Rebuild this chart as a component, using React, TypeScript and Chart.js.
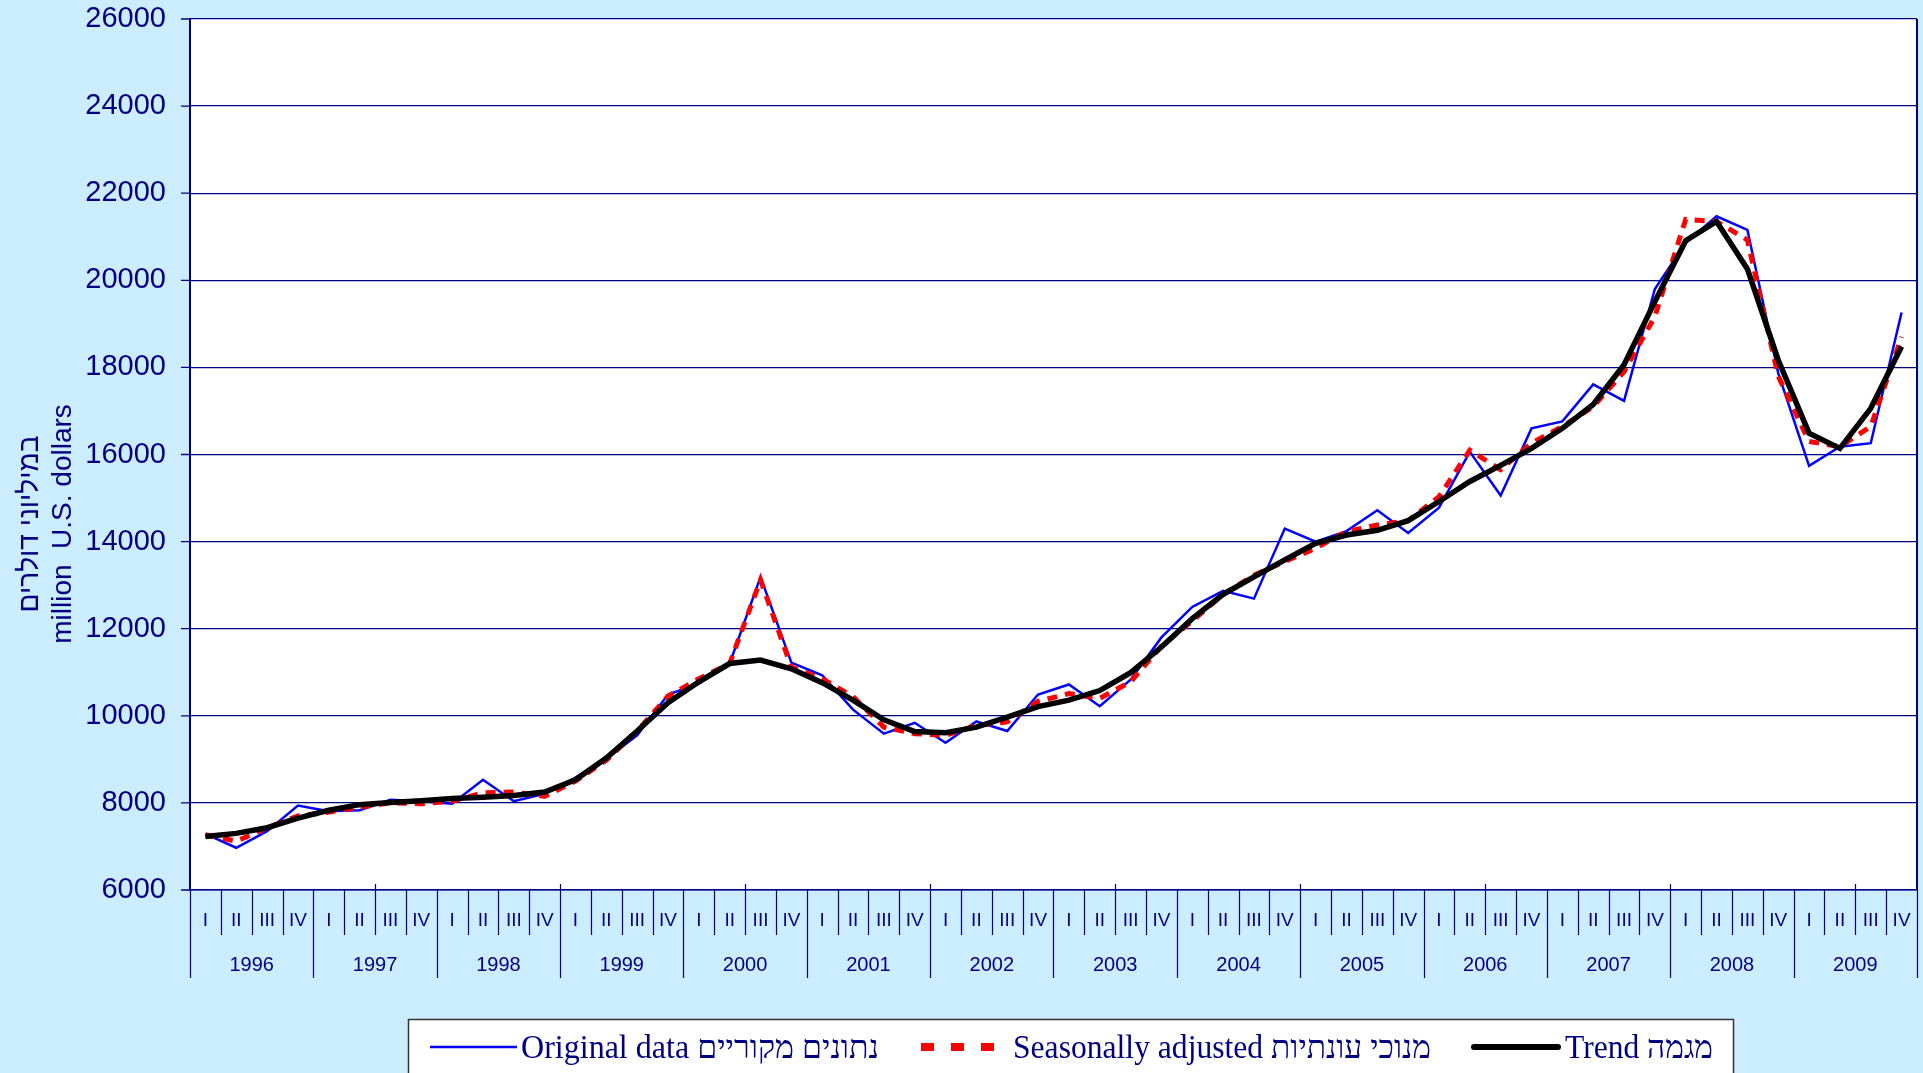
import React, { useEffect, useRef } from "react";
import { Chart, registerables } from "chart.js";

Chart.register(...registerables);

// ---------------- data ----------------
const years = ["1996", "1997", "1998", "1999", "2000", "2001", "2002", "2003", "2004", "2005", "2006", "2007", "2008", "2009"];
const quarterNames = ["I", "II", "III", "IV"];
const categories = years.flatMap((y) => quarterNames.map((q) => `${q} ${y}`));

const originalData = [
  7290, 6970, 7350, 7940,
  7810, 7830, 8070, 8040,
  7980, 8530, 8040, 8210,
  8580, 9020, 9550, 10490,
  10740, 11200, 13190, 11220,
  10930, 10140, 9590, 9840,
  9380, 9870, 9650, 10490,
  10720, 10220, 10830, 11800,
  12500, 12870, 12690, 14300,
  14000, 14240, 14720, 14200,
  14780, 16060, 15060, 16600,
  16760, 17610, 17230, 19800,
  20860, 21470, 21160, 17870,
  15740, 16180, 16260, 19260,
];

const seasonallyAdjusted = [
  7270, 7120, 7430, 7700,
  7790, 7900, 8000, 7980,
  8040, 8230, 8250, 8150,
  8500, 8980, 9650, 10450,
  10850, 11200, 13120, 11120,
  10850, 10440, 9740, 9590,
  9550, 9780, 9860, 10330,
  10510, 10400, 10780, 11600,
  12180, 12790, 13230, 13540,
  13850, 14230, 14380, 14480,
  15030, 16100, 15650, 16260,
  16640, 17100, 17900, 19170,
  21400, 21350, 20930, 17800,
  16300, 16180, 16640, 18700,
];

const trend = [
  7230, 7300, 7430, 7650,
  7830, 7960, 8010, 8050,
  8100, 8130, 8170, 8250,
  8530, 9030, 9650, 10300,
  10780, 11200, 11280, 11080,
  10760, 10360, 9910, 9640,
  9610, 9740, 9970, 10210,
  10360, 10580, 10990, 11580,
  12230, 12790, 13190, 13580,
  13960, 14150, 14260, 14480,
  14920, 15380, 15750, 16140,
  16600, 17150, 18060, 19510,
  20910, 21350, 20260, 18170,
  16490, 16140, 17060, 18480,
];

const yMin = 6000;
const yMax = 26000;
const yStep = 2000;

const yTitleLines = ["במיליוני דולרים", "million  U.S. dollars"];
const legendOriginal = "Original data נתונים מקוריים";
const legendSeasonal = "Seasonally adjusted מנוכי עונתיות";
const legendTrend = "Trend מגמה";

// ---------------- styles / layout ----------------
const NAVY = "#000080";
const BG = "#CCECFF";
const W = 1923;
const H = 1073;

function drawCondensed(ctx: CanvasRenderingContext2D, text: string, x0: number, x1: number, baseline: number, font: string) {
  ctx.save();
  ctx.font = font;
  ctx.textAlign = "left";
  ctx.textBaseline = "alphabetic";
  const natural = ctx.measureText(text).width;
  const sx = (x1 - x0) / natural;
  ctx.translate(x0, baseline);
  ctx.scale(sx, 1);
  ctx.fillText(text, 0, 0);
  ctx.restore();
}

const decorPlugin = {
  id: "decor",
  beforeDraw(chart: any) {
    const { ctx, chartArea: a, width, height } = chart;
    ctx.save();
    ctx.fillStyle = BG;
    ctx.fillRect(0, 0, width, height);
    ctx.fillStyle = "#FFFFFF";
    ctx.fillRect(a.left, a.top, a.right - a.left, a.bottom - a.top);
    ctx.restore();
  },
  afterDraw(chart: any) {
    const { ctx, chartArea: a, scales } = chart;
    const xs = scales.x;
    const ys = scales.y;
    const n = categories.length;
    const p0 = xs.getPixelForValue(0);
    const step = xs.getPixelForValue(1) - p0;
    const boundary = (j: number) => p0 + (j - 0.5) * step;

    ctx.save();
    // plot borders
    ctx.strokeStyle = NAVY;
    ctx.lineWidth = 2;
    ctx.beginPath();
    ctx.moveTo(a.left, a.top);
    ctx.lineTo(a.left, a.bottom);
    ctx.moveTo(a.right, a.top);
    ctx.lineTo(a.right, a.bottom);
    ctx.stroke();

    // y tick marks
    ctx.lineWidth = 1.3;
    ctx.beginPath();
    for (let v = yMin; v <= yMax; v += yStep) {
      const y = ys.getPixelForValue(v);
      ctx.moveTo(a.left - 9, y);
      ctx.lineTo(a.left, y);
    }
    ctx.stroke();

    // x-axis ticks
    ctx.lineWidth = 1.2;
    ctx.beginPath();
    for (let j = 0; j <= n; j++) {
      const x = Math.round(boundary(j)) + 0.5;
      const yEnd = j % 4 === 0 ? 978 : 935;
      ctx.moveTo(x, a.bottom);
      ctx.lineTo(x, yEnd);
      if (j % 6 === 0 && j > 0 && j < n) {
        ctx.moveTo(x, a.bottom - 6);
        ctx.lineTo(x, a.bottom);
      }
    }
    ctx.stroke();

    // quarter labels
    ctx.fillStyle = NAVY;
    ctx.textAlign = "center";
    ctx.textBaseline = "middle";
    ctx.font = "19px 'Liberation Sans', Arial, sans-serif";
    for (let i = 0; i < n; i++) {
      ctx.fillText(quarterNames[i % 4], xs.getPixelForValue(i), 921);
    }
    // year labels
    ctx.font = "20px 'Liberation Sans', Arial, sans-serif";
    years.forEach((y, k) => {
      const cx = (boundary(k * 4) + boundary(k * 4 + 4)) / 2;
      ctx.fillText(y, cx, 965);
    });

    // y-axis title
    ctx.font = "28px 'Liberation Sans', Arial, sans-serif";
    const titleX = [30, 63];
    yTitleLines.forEach((t, k) => {
      ctx.save();
      ctx.translate(titleX[k], 524);
      ctx.rotate(-Math.PI / 2);
      ctx.fillText(t, 0, 0);
      ctx.restore();
    });

    // legend box
    ctx.fillStyle = "#FFFFFF";
    ctx.fillRect(408, 1019, 1733 - 408, 70);
    ctx.strokeStyle = "#333333";
    ctx.lineWidth = 1.5;
    ctx.strokeRect(408.5, 1019.5, 1733 - 408, 70);

    // legend samples
    const ly = 1047;
    ctx.lineCap = "butt";
    ctx.strokeStyle = "#0000FF";
    ctx.lineWidth = 2.5;
    ctx.beginPath();
    ctx.moveTo(430, ly);
    ctx.lineTo(517, ly);
    ctx.stroke();

    ctx.strokeStyle = "#FF0000";
    ctx.lineWidth = 8;
    ctx.setLineDash([13, 17]);
    ctx.beginPath();
    ctx.moveTo(921, ly);
    ctx.lineTo(995, ly);
    ctx.stroke();
    ctx.setLineDash([]);

    ctx.strokeStyle = "#000000";
    ctx.lineWidth = 6;
    ctx.lineCap = "round";
    ctx.beginPath();
    ctx.moveTo(1474, ly);
    ctx.lineTo(1558, ly);
    ctx.stroke();

    ctx.fillStyle = NAVY;
    const lfont = "33px 'Liberation Serif', 'Times New Roman', serif";
    drawCondensed(ctx, legendOriginal, 521, 879, 1058, lfont);
    drawCondensed(ctx, legendSeasonal, 1013, 1431, 1058, lfont);
    drawCondensed(ctx, legendTrend, 1565, 1713, 1058, lfont);
    ctx.restore();
  },
};

export default function App() {
  const canvasRef = useRef<HTMLCanvasElement | null>(null);

  useEffect(() => {
    const canvas = canvasRef.current;
    if (!canvas) return;
    const chart = new Chart(canvas, {
      type: "line",
      data: {
        labels: categories,
        datasets: [
          {
            label: legendOriginal,
            data: originalData,
            borderColor: "#0000FF",
            borderWidth: 2.5,
            pointRadius: 0,
            tension: 0,
            fill: false,
            order: 3,
          },
          {
            label: legendSeasonal,
            data: seasonallyAdjusted,
            borderColor: "#FF0000",
            borderWidth: 5,
            borderDash: [10, 8],
            pointRadius: 0,
            tension: 0,
            fill: false,
            order: 2,
          },
          {
            label: legendTrend,
            data: trend,
            borderColor: "#000000",
            borderWidth: 5.5,
            pointRadius: 0,
            tension: 0,
            fill: false,
            order: 1,
          },
        ],
      },
      options: {
        responsive: false,
        animation: false,
        events: [],
        layout: { padding: { top: 19, right: 6, left: 0, bottom: 0 } },
        plugins: {
          legend: { display: false },
          tooltip: { enabled: false },
          title: { display: false },
        },
        scales: {
          x: {
            type: "category",
            offset: true,
            grid: { display: false, drawTicks: false },
            border: { display: true, color: NAVY, width: 1.5 },
            ticks: { display: false },
            afterFit: (s: any) => {
              s.height = 183;
            },
          },
          y: {
            min: yMin,
            max: yMax,
            ticks: {
              stepSize: yStep,
              color: NAVY,
              padding: 0,
              callback: (v: any) => String(v),
              font: { family: "'Liberation Sans', Arial, sans-serif", size: 29, lineHeight: 1 },
            },
            grid: { color: NAVY, lineWidth: 1.3, tickLength: 24, drawTicks: true, tickColor: "rgba(0,0,0,0)" },
            border: { display: true, color: NAVY, width: 2 },
            afterFit: (s: any) => {
              s.width = 190;
            },
          },
        },
      },
      plugins: [decorPlugin],
    });
    return () => chart.destroy();
  }, []);

  return (
    <div style={{ position: "fixed", left: 0, top: 0, width: W, height: H, background: BG, overflow: "hidden" }}>
      <canvas ref={canvasRef} width={W} height={H} style={{ display: "block", width: W, height: H }} />
    </div>
  );
}
